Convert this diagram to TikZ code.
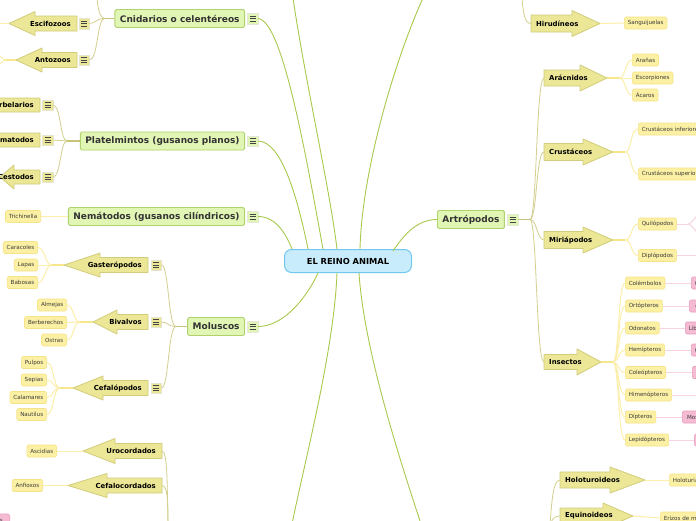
\documentclass[tikz,border=0pt]{standalone}
\usepackage{fontspec}
\setmainfont{DejaVu Sans}
\definecolor{gfill}{HTML}{E1F5B4}
\definecolor{gborder}{HTML}{AED26C}
\definecolor{maintext}{HTML}{333333}
\definecolor{rfill}{HTML}{C8ECFB}
\definecolor{rborder}{HTML}{72C8EC}
\definecolor{afill}{HTML}{ECE797}
\definecolor{aborder}{HTML}{D2CD7A}
\definecolor{lfill}{HTML}{FCF0A4}
\definecolor{lborder}{HTML}{F5E487}
\definecolor{leaftext}{HTML}{3A3A3A}
\definecolor{pfill}{HTML}{F5BBD3}
\definecolor{pborder}{HTML}{EA9CBC}
\definecolor{cone}{HTML}{A9C94D}
\definecolor{ctwo}{HTML}{D3CF8E}
\definecolor{ctwostem}{HTML}{C8C27A}
\definecolor{cthree}{HTML}{FBEFAA}
\definecolor{cthreestem}{HTML}{F6E68C}
\definecolor{cfour}{HTML}{F8D2E2}
\definecolor{iconline}{HTML}{444444}
\tikzset{
  mainnode/.style={draw=gborder, fill=gfill, line width=0.9pt, rounded corners=1.5pt,
    minimum height=18pt, inner xsep=5pt, inner ysep=0pt,
    font=\fontsize{9}{10}\selectfont\bfseries, text=maintext},
  rootnode/.style={draw=rborder, fill=rfill, line width=1pt, rounded corners=7pt,
    minimum height=23pt, minimum width=127pt, inner sep=0pt,
    font=\fontsize{8.3}{9}\selectfont\bfseries, text=black},
  arrowshape/.style={draw=aborder, fill=afill, line width=0.8pt, line join=round},
  arrowlabel/.style={inner sep=0pt, font=\fontsize{6.9}{8}\selectfont\bfseries, text=black},
  leaf/.style={draw=lborder, fill=lfill, line width=0.6pt, rounded corners=1.5pt,
    minimum height=12pt, inner xsep=3.5pt, inner ysep=0pt,
    font=\fontsize{5.6}{6}\selectfont, text=leaftext},
  pinkleaf/.style={leaf, draw=pborder, fill=pfill, minimum width=30pt},
  menuicon/.style={minimum size=10.5pt, inner sep=0pt, draw=#1!60!gray!40, line width=0.3pt,
    path picture={
      \foreach \dy in {-2.6,0,2.6}
        \draw[iconline, line width=0.7pt] ([xshift=-3pt,yshift=\dy pt]path picture bounding box.center)
          -- ([xshift=3pt,yshift=\dy pt]path picture bounding box.center);
    }},
  conna/.style={draw=cone, line width=0.9pt},
  connb/.style={draw=ctwo, line width=0.8pt},
  connbstem/.style={draw=ctwostem, line width=1.6pt},
  connc/.style={draw=cthree, line width=1pt},
  conncstem/.style={draw=cthreestem, line width=1.5pt},
  connd/.style={draw=cfour, line width=1pt},
}
% left-pointing arrow: name, tipx, cy, headbase, rightx, headhalf, bodyhalf, text
\newcommand\LArr[8]{%
  \draw[arrowshape] (#2,#3) -- (#4,#3-#6) -- (#4,#3-#7) -- (#5,#3-#7) -- (#5,#3+#7)
     -- (#4,#3+#7) -- (#4,#3+#6) -- cycle;
  \coordinate (#1tip) at (#2,#3);
  \coordinate (#1end) at (#5,#3);
  \node[arrowlabel, anchor=east] (#1) at (#5-6,#3) {#8};
}
% right-pointing arrow: name, leftx, cy, headbase, tipx, headhalf, bodyhalf, text
\newcommand\RArr[8]{%
  \draw[arrowshape] (#5,#3) -- (#4,#3-#6) -- (#4,#3-#7) -- (#2,#3-#7) -- (#2,#3+#7)
     -- (#4,#3+#7) -- (#4,#3+#6) -- cycle;
  \coordinate (#1tip) at (#5,#3);
  \coordinate (#1end) at (#2,#3);
  \node[arrowlabel, anchor=west] (#1) at (#2+5,#3) {#8};
}
\begin{document}
\begin{tikzpicture}[x=1pt,y=-1pt]
\path[use as bounding box] (0,0) rectangle (696,520);
\clip (0,0) rectangle (696,520);
\fill[white] (0,0) rectangle (696,520);

% ---------- coordinates for off-canvas ends ----------
\coordinate (topA) at (293,-2);
\coordinate (topB) at (423,-2);
\coordinate (botA) at (292,524);
\coordinate (botB) at (421,524);
\coordinate (cnidup) at (97,-2);
\coordinate (hiruup) at (522,-2);
\coordinate (cordbot) at (168,524);
\coordinate (equibot) at (550,524);
\coordinate (escileft) at (-4,23.5);
\coordinate (antofork) at (6,60);
\coordinate (antoA) at (-3,55);
\coordinate (antoB) at (-3,65);
\coordinate (quilfork) at (688,224);
\coordinate (quilA) at (699,215);
\coordinate (quilB) at (699,233);
\coordinate (diplend) at (699,255.5);
\coordinate (himeend) at (699,395);

% ---------- root and main nodes ----------
\node[rootnode] (root) at (348,261) {EL REINO ANIMAL};
\coordinate (rt1) at (292,249);
\coordinate (rt2) at (308,249);
\coordinate (rt3) at (323,249);
\coordinate (rt4) at (337,249);
\coordinate (rt5) at (360,249);
\coordinate (rt6) at (393,251);
\coordinate (rb1) at (318,273);
\coordinate (rb2) at (337,273);
\coordinate (rb3) at (359,273);

\node[mainnode, anchor=east] (cnid) at (245,18.5) {Cnidarios o celentéreos};
\node[menuicon=gfill, fill=gfill] (cnidm) at (252.5,18.5) {};
\node[mainnode, anchor=east] (plat) at (245,141) {Platelmintos (gusanos planos)};
\node[menuicon=gfill, fill=gfill] (platm) at (252.5,141) {};
\node[mainnode, anchor=east] (nema) at (245,216.5) {Nemátodos (gusanos cilíndricos)};
\node[menuicon=gfill, fill=gfill] (nemam) at (252.5,216.5) {};
\node[mainnode, anchor=east] (molu) at (245,326.5) {Moluscos};
\node[menuicon=gfill, fill=gfill] (molum) at (252.5,326.5) {};
\node[mainnode, anchor=west] (artr) at (437,219.5) {Artrópodos};
\node[menuicon=gfill, fill=gfill] (artrm) at (512.5,219.5) {};

% ---------- main connectors ----------
\draw[conna] (cnidm.east) .. controls (282,20) and (305,150) .. (rt3);
\draw[conna] (platm.east) .. controls (282,141) and (298,200) .. (rt2);
\draw[conna] (nemam.east) .. controls (276,216.5) and (286,234) .. (rt1);
\draw[conna] (topA) .. controls (305,80) and (330,190) .. (rt4);
\draw[conna] (topB) .. controls (395,60) and (362,170) .. (rt5);
\draw[conna] (artr.west) .. controls (415,219.5) and (402,238) .. (rt6);
\draw[conna] (molum.east) .. controls (285,326.5) and (308,295) .. (rb1);
\draw[conna] (rb2) .. controls (334,350) and (305,460) .. (botA);
\draw[conna] (rb3) .. controls (364,350) and (400,460) .. (botB);

% ---------- arrows (second level) ----------
\LArr{esci}{9}{23.5}{35}{77}{12}{7.5}{Escifozoos}
\node[menuicon=afill, fill=afill] (escim) at (84,23.5) {};
\LArr{anto}{16}{60}{42}{77}{12}{7.5}{Antozoos}
\node[menuicon=afill, fill=afill] (antom) at (84,60) {};
\LArr{turb}{-30}{105}{-5}{40}{12}{7}{Turbelarios}
\node[menuicon=afill, fill=afill] (turbm) at (47.5,105) {};
\LArr{trem}{-30}{140}{-5}{40}{12}{7}{Trematodos}
\node[menuicon=afill, fill=afill] (tremm) at (47.5,140) {};
\LArr{cest}{0}{177}{14}{40}{12}{7}{Cestodos}
\node[menuicon=afill, fill=afill] (cestm) at (47.5,177) {};
\LArr{gast}{64}{265}{100}{148}{12}{7.5}{Gasterópodos}
\node[menuicon=afill, fill=afill] (gastm) at (156,265) {};
\LArr{biva}{93}{322}{117}{148}{12}{7.5}{Bivalvos}
\node[menuicon=afill, fill=afill] (bivam) at (156,322) {};
\LArr{cefa}{73}{388}{103}{148}{12}{7.5}{Cefalópodos}
\node[menuicon=afill, fill=afill] (cefam) at (156,388) {};
\LArr{uroc}{83}{451}{115}{162}{12.5}{7.5}{Urocordados}
\LArr{cefc}{68}{485.5}{107}{162}{12}{7.5}{Cefalocordados}

\RArr{hiru}{531}{23.5}{572}{600}{13}{8.5}{Hirudíneos}
\RArr{arac}{544}{78}{580}{607}{13}{8}{Arácnidos}
\RArr{crus}{544}{152}{583}{613}{13}{8.5}{Crustáceos}
\RArr{miri}{544}{240}{583}{613}{13}{8.5}{Miriápodos}
\RArr{inse}{544}{362}{577}{601}{13}{7.5}{Insectos}
\RArr{holo}{560}{480}{610}{645}{13}{8}{Holoturoideos}
\RArr{equi}{560}{516}{603}{633}{13}{8}{Equinoideos}

% ---------- second-level connectors ----------
\coordinate (cnidj) at (104,18.5);
\draw[connbstem] (cnid.west) -- (cnidj);
\draw[connb] (cnidj) .. controls (99,16) and (98,8) .. (cnidup);
\draw[connb] (cnidj) .. controls (96,18.5) and (96,23.5) .. (escim.east);
\draw[connb] (cnidj) .. controls (97,20) and (98,60) .. (antom.east);

\coordinate (platj) at (67,141);
\draw[connbstem] (plat.west) -- (platj);
\draw[connb] (platj) .. controls (60,141) and (61,105) .. (turbm.east);
\draw[connb] (platj) .. controls (60,141) and (60,140) .. (tremm.east);
\draw[connb] (platj) .. controls (60,141) and (61,177) .. (cestm.east);

\coordinate (moluj) at (176,326.5);
\draw[connbstem] (molu.west) -- (moluj);
\draw[connb] (moluj) .. controls (168,326.5) and (169,265) .. (gastm.east);
\draw[connb] (moluj) .. controls (168,326.5) and (168,322) .. (bivam.east);
\draw[connb] (moluj) .. controls (168,326.5) and (169,388) .. (cefam.east);

\coordinate (artrj) at (530,219.5);
\draw[connbstem] (artrm.east) -- (artrj);
\draw[connb] (artrj) .. controls (537,219.5) and (536,78) .. (aracend);
\draw[connb] (artrj) .. controls (537,219.5) and (536,152) .. (crusend);
\draw[connb] (artrj) .. controls (537,219.5) and (537,240) .. (miriend);
\draw[connb] (artrj) .. controls (537,219.5) and (536,362) .. (inseend);

\draw[connb] (hiruend) .. controls (524,23.5) and (523,10) .. (hiruup);
\draw[connb] (urocend) .. controls (168,451) and (167,490) .. (cordbot);
\draw[connb] (cefcend) .. controls (168,485.5) and (168,505) .. (cordbot);
\draw[connb] (holoend) .. controls (553,480) and (552,500) .. (equibot);
\draw[connb] (equiend) .. controls (555,516) and (553,518) .. (equibot);

% ---------- leaves ----------
\node[leaf, anchor=east] (tric) at (41,216.5) {Trichinella};
\node[leaf, anchor=east] (cara) at (38,247.5) {Caracoles};
\node[leaf, anchor=east] (lapa) at (38,265) {Lapas};
\node[leaf, anchor=east] (babo) at (38,282.5) {Babosas};
\node[leaf, anchor=east] (alme) at (67,305) {Almejas};
\node[leaf, anchor=east] (berb) at (67,322.5) {Berberechos};
\node[leaf, anchor=east] (ostr) at (67,340) {Ostras};
\node[leaf, anchor=east] (pulp) at (47,362.5) {Pulpos};
\node[leaf, anchor=east] (sepi) at (47,380) {Sepias};
\node[leaf, anchor=east] (cala) at (47,397.5) {Calamares};
\node[leaf, anchor=east] (naut) at (47,414.5) {Nautilus};
\node[leaf, anchor=east] (asci) at (57,451) {Ascidias};
\node[leaf, anchor=east] (anfi) at (43,485.5) {Anfioxos};

\node[leaf, anchor=west] (sang) at (624,23) {Sanguijuelas};
\node[leaf, anchor=west] (aran) at (632,60) {Arañas};
\node[leaf, anchor=west] (esco) at (632,78) {Escorpiones};
\node[leaf, anchor=west] (acar) at (632,95) {Ácaros};
\node[leaf, anchor=west] (cinf) at (638,129) {Crustáceos inferiores};
\node[leaf, anchor=west] (csup) at (638,174) {Crustáceos superiores};
\node[leaf, anchor=west] (quil) at (638,224) {Quilópodos};
\node[leaf, anchor=west] (dipl) at (638,255.5) {Diplópodos};
\node[leaf, anchor=west] (cole) at (625,283) {Colémbolos};
\node[leaf, anchor=west] (orto) at (625,306) {Ortópteros};
\node[leaf, anchor=west] (odon) at (625,328) {Odonatos};
\node[leaf, anchor=west] (hemi) at (625,350) {Hemípteros};
\node[leaf, anchor=west] (coleo) at (625,372.5) {Coleópteros};
\node[leaf, anchor=west] (hime) at (625,395) {Himenópteros};
\node[leaf, anchor=west] (dipt) at (625,417) {Dípteros};
\node[leaf, anchor=west] (lepi) at (625,440) {Lepidópteros};
\node[leaf, anchor=west] (holt) at (669,480) {Holoturias};
\node[leaf, anchor=west] (eriz) at (660,518) {Erizos de mar};

% ---------- pink leaves ----------
\node[pinkleaf, anchor=west] (pcole) at (691,283) {Colémbolos};
\node[pinkleaf, anchor=west] (porto) at (689,306) {Grillos};
\node[pinkleaf, anchor=west] (podon) at (685,328) {Libélulas};
\node[pinkleaf, anchor=west] (phemi) at (691,350) {Chinches};
\node[pinkleaf, anchor=west] (pcoleo) at (692,372.5) {Escarabajos};
\node[pinkleaf, anchor=west] (pdipt) at (682,417) {Moscas};
\node[pinkleaf, anchor=west] (plepi) at (694,440) {Mariposas};
\node[pinkleaf, anchor=east] (pbot) at (10,520) {Peces};

% ---------- leaf connectors ----------
\draw[connc] (tric.east) -- (nema.west);
\draw[connc] (escitip) -- (escileft);
\draw[conncstem] (antotip) -- (antofork);
\draw[connc] (antofork) .. controls (2,60) and (1,55) .. (antoA);
\draw[connc] (antofork) .. controls (2,60) and (1,65) .. (antoB);

\coordinate (gastj) at (52,265);
\draw[conncstem] (gasttip) -- (gastj);
\draw[connc] (gastj) .. controls (45,265) and (45,247.5) .. (cara.east);
\draw[connc] (gastj) -- (lapa.east);
\draw[connc] (gastj) .. controls (45,265) and (45,282.5) .. (babo.east);

\coordinate (bivaj) at (80,322);
\draw[conncstem] (bivatip) -- (bivaj);
\draw[connc] (bivaj) .. controls (73,322) and (74,305) .. (alme.east);
\draw[connc] (bivaj) -- (berb.east);
\draw[connc] (bivaj) .. controls (73,322) and (74,340) .. (ostr.east);

\coordinate (cefaj) at (60,388);
\draw[conncstem] (cefatip) -- (cefaj);
\draw[connc] (cefaj) .. controls (53,388) and (54,362.5) .. (pulp.east);
\draw[connc] (cefaj) .. controls (53,388) and (53,380) .. (sepi.east);
\draw[connc] (cefaj) .. controls (53,388) and (53,397.5) .. (cala.east);
\draw[connc] (cefaj) .. controls (53,388) and (54,414.5) .. (naut.east);

\draw[connc] (uroctip) -- (asci.east);
\draw[connc] (cefctip) -- (anfi.east);
\draw[connc] (hirutip) -- (sang.west);

\coordinate (aracj) at (619,78);
\draw[conncstem] (aractip) -- (aracj);
\draw[connc] (aracj) .. controls (626,78) and (625,60) .. (aran.west);
\draw[connc] (aracj) -- (esco.west);
\draw[connc] (aracj) .. controls (626,78) and (625,95) .. (acar.west);

\coordinate (crusj) at (625,152);
\draw[conncstem] (crustip) -- (crusj);
\draw[connc] (crusj) .. controls (632,152) and (630,129) .. (cinf.west);
\draw[connc] (crusj) .. controls (632,152) and (630,174) .. (csup.west);

\coordinate (mirij) at (625,240);
\draw[conncstem] (miritip) -- (mirij);
\draw[connc] (mirij) .. controls (632,240) and (631,224) .. (quil.west);
\draw[connc] (mirij) .. controls (632,240) and (631,255.5) .. (dipl.west);

\coordinate (insej) at (613,362);
\draw[conncstem] (insetip) -- (insej);
\foreach \leafname/\ly in {cole/283,orto/306,odon/328,hemi/350,coleo/372.5,hime/395,dipt/417,lepi/440}
  \draw[connc] (insej) .. controls (619,362) and (618,\ly) .. (\leafname.west);

\draw[connc] (holotip) -- (holt.west);
\draw[connc] (equitip) -- (eriz.west);

% ---------- pink connectors ----------
\draw[connd] (quil.east) -- (quilfork);
\draw[connd] (quilfork) .. controls (693,224) and (694,216) .. (quilA);
\draw[connd] (quilfork) .. controls (693,224) and (694,232) .. (quilB);
\draw[connd] (dipl.east) -- (diplend);
\draw[connd] (cole.east) -- (pcole.west);
\draw[connd] (orto.east) -- (porto.west);
\draw[connd] (odon.east) -- (podon.west);
\draw[connd] (hemi.east) -- (phemi.west);
\draw[connd] (coleo.east) -- (pcoleo.west);
\draw[connd] (hime.east) -- (himeend);
\draw[connd] (dipt.east) -- (pdipt.west);
\draw[connd] (lepi.east) -- (plepi.west);
\end{tikzpicture}
\end{document}
